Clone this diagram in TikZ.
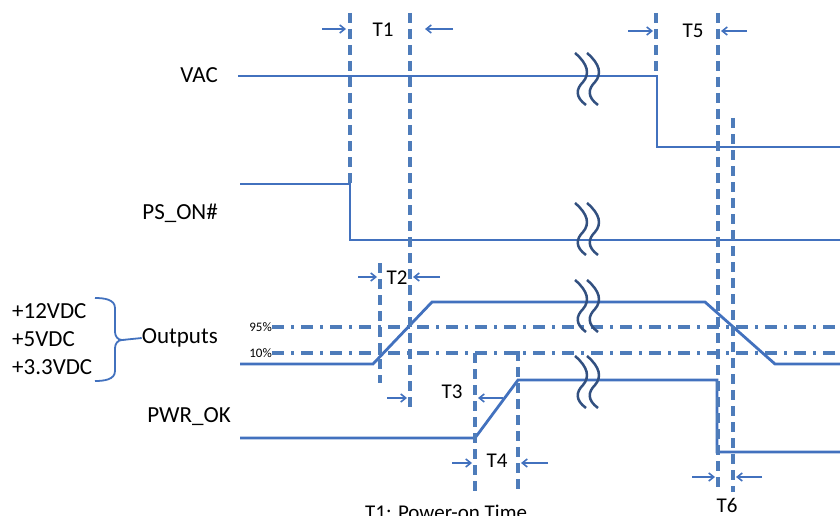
\documentclass[tikz,border=0pt]{standalone}
\usepackage{fontspec}
\setmainfont{Carlito}
\usetikzlibrary{arrows.meta}
\definecolor{sigblue}{RGB}{66,113,190}
\definecolor{gridblue}{RGB}{78,124,186}
\definecolor{breakblue}{RGB}{50,80,128}

\tikzset{
    sigbreak/.pic={
        \draw[breakblue, line width=2.5pt] (-8,-25) .. controls (5,-14) and (7,-4) .. (0,4) .. controls (-7,11) and (-8,19) .. (3,27);
        \draw[breakblue, line width=2.5pt] (4,-25) .. controls (17,-14) and (19,-4) .. (12,4) .. controls (5,11) and (4,19) .. (15,27);
    }
}

\begin{document}
\begin{tikzpicture}[x=1pt, y=-1pt,
    sig/.style={sigblue, line width=2.8pt},
    tline/.style={gridblue, line width=3.4pt, dash pattern=on 10pt off 6pt},
    lvl/.style={gridblue, line width=3.2pt, dash pattern=on 12pt off 7pt on 3pt off 7pt},
    tarr/.style={-{Straight Barb[length=5pt,width=8pt]}, sigblue, line width=1.6pt},
    lbl/.style={font=\fontsize{23}{27}\selectfont, inner sep=0pt},
    tlbl/.style={font=\fontsize{21}{25}\selectfont, inner sep=0pt},
    pct/.style={font=\fontsize{13}{15}\selectfont, inner sep=0pt},
]
\useasboundingbox (0,0) rectangle (840,516);
\clip (0,0) rectangle (840,516);

% signal names
\node[lbl, anchor=east] (vac) at (218,75) {VAC};
\node[lbl, anchor=east] (pson) at (218,213) {PS\_ON\#};
\node[lbl, anchor=east] (outs) at (218,338) {Outputs};
\node[lbl, anchor=east] (pwrok) at (231,417) {PWR\_OK};
\node[lbl, anchor=west] (v12) at (12,311) {+12VDC};
\node[lbl, anchor=west] (v5) at (12,339) {+5VDC};
\node[lbl, anchor=west] (v33) at (12,367) {+3.3VDC};
\node[pct, anchor=east] (p95) at (272,327) {95\%};
\node[pct, anchor=east] (p10) at (272,353) {10\%};

% brace
\coordinate (btip) at (122,340);
\draw[sigblue, line width=1.8pt] (95,298) to[out=0,in=90] (115,308) -- (115,332) to[out=-90,in=180] (btip)
    to[out=180,in=90] (115,348) -- (115,371) to[out=-90,in=0] (95,381);
\draw[sigblue, line width=1.8pt] (btip) -- (outs.west);

% threshold levels
\draw[lvl] (p95.east) -- (840,327);
\draw[lvl] (p10.east) -- (840,353);

% waveforms
\draw[sig] (238,76) -- (657,76) -- (657,147) -- (840,147);
\draw[sig] (240,184) -- (350,184) -- (350,240) -- (840,240);
\draw[sig] (240,364) -- (373,364) -- (432,302) -- (705,302) -- (775,364) -- (840,364);
\draw[sig] (240,438) -- (475,438) -- (518,380) -- (717,380) -- (717,452) -- (840,452);

% breaks
\pic at (583,78) {sigbreak};
\pic at (583,228) {sigbreak};
\pic at (583,305) {sigbreak};
\pic at (583,381) {sigbreak};

% timing marks
\draw[tline] (350,13) -- (350,184);
\draw[tline] (410,13) -- (410,413);
\draw[tline] (380,263) -- (380,383);
\draw[tline] (475,353) -- (475,492);
\draw[tline] (518,351) -- (518,492);
\draw[tline] (656,13) -- (656,76);
\draw[tline] (718,13) -- (718,492);
\draw[tline] (733,118) -- (733,492);

% T1
\node[tlbl] (t1) at (383,30) {T1};
\draw[tarr] (322,29) -- (346,29);
\draw[tarr] (453,29) -- (425,29);
% T2
\node[tlbl] (t2) at (397,278) {T2};
\draw[tarr] (358,277) -- (377,277);
\draw[tarr] (440,277) -- (413,277);
% T3
\node[tlbl] (t3) at (452,392) {T3};
\draw[tarr] (387,398) -- (407,398);
\draw[tarr] (503,398) -- (478,398);
% T4
\node[tlbl] (t4) at (497,461) {T4};
\draw[tarr] (452,463) -- (472,463);
\draw[tarr] (548,463) -- (521,463);
% T5
\node[tlbl] (t5) at (693,31) {T5};
\draw[tarr] (628,31) -- (653,31);
\draw[tarr] (747,31) -- (721,31);
% T6
\node[tlbl] (t6) at (727,505) {T6};
\draw[tarr] (692,477) -- (715,477);
\draw[tarr] (762,477) -- (736,477);

\node[tlbl, anchor=base west] (note) at (365,519) {T1: Power-on Time};
\end{tikzpicture}
\end{document}
